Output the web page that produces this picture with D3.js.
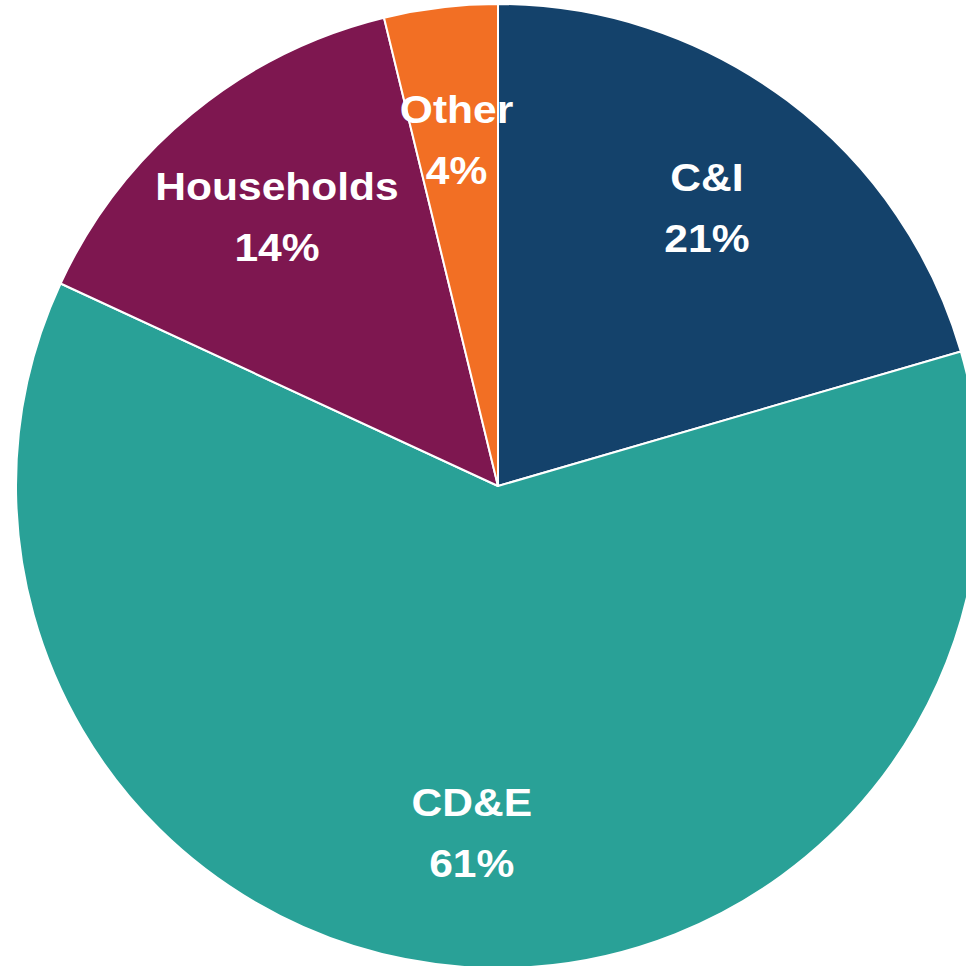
<!DOCTYPE html>
<html>
<head>
<meta charset="utf-8">
<script src="https://cdn.jsdelivr.net/npm/d3@7"></script>
<style>
  body { margin: 0; background: #fff; }
  svg { display: block; }
  .lbl { font-family: "Liberation Sans", Arial, sans-serif; font-weight: bold; fill: #fff; }
</style>
</head>
<body>
<div id="chart"></div>
<script>
// segments, clockwise from 12 o'clock
var categories = ['C&I', 'CD&E', 'Households', 'Other'];
var shares     = [20.5, 61.4, 14.3, 3.8];
var pctLabels  = ['21%', '61%', '14%', '4%'];
var colors     = ['#14426b', '#29a197', '#7e1750', '#f26f24'];

var width = 966, height = 966,
    cx = 498, cy = 486,
    radius = 482,
    labelRadius = 348;

var svg = d3.select('#chart').append('svg')
    .attr('width', width)
    .attr('height', height);

var g = svg.append('g')
    .attr('transform', 'translate(' + cx + ',' + cy + ')');

var pie = d3.pie().sort(null).value(function(d) { return d; });
var arcs = pie(shares);

var arc = d3.arc().innerRadius(0).outerRadius(radius);
var labelArc = d3.arc().innerRadius(labelRadius).outerRadius(labelRadius);

g.selectAll('path.slice')
    .data(arcs)
    .enter().append('path')
    .attr('class', 'slice')
    .attr('d', arc)
    .attr('fill', function(d, i) { return colors[i]; })
    .attr('stroke', '#fff')
    .attr('stroke-width', 2)
    .attr('stroke-linejoin', 'round');

// the source text is a bit wider than the font, so stretch it horizontally
var lbl = g.selectAll('g.lab')
    .data(arcs)
    .enter().append('g')
    .attr('class', 'lab')
    .attr('transform', function(d) { return 'translate(' + labelArc.centroid(d) + ') scale(1.12,1)'; });

lbl.append('text')
    .attr('class', 'lbl')
    .attr('text-anchor', 'middle')
    .attr('y', -17)
    .style('font-size', '38px')
    .text(function(d, i) { return categories[i]; });

lbl.append('text')
    .attr('class', 'lbl')
    .attr('text-anchor', 'middle')
    .attr('y', 44)
    .style('font-size', '38px')
    .text(function(d, i) { return pctLabels[i]; });
</script>
</body>
</html>
